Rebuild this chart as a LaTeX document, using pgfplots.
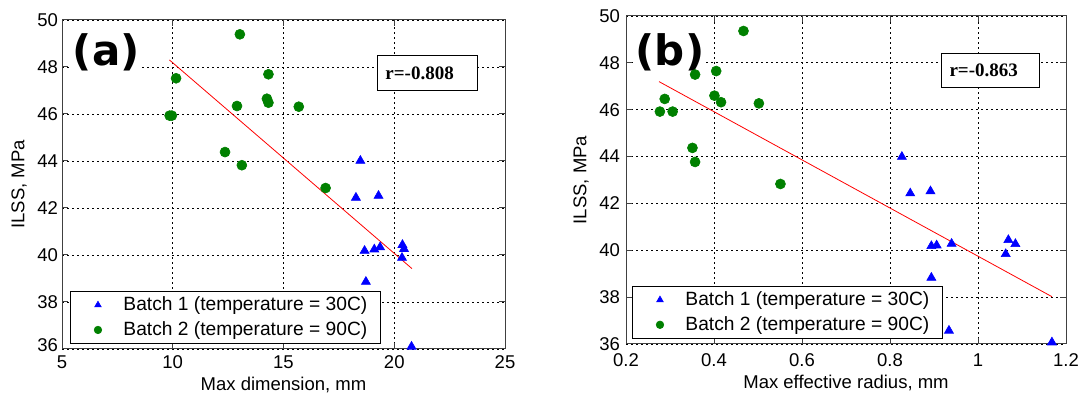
\documentclass[border=0pt]{standalone}
\usepackage{fontspec}
\setmainfont{Liberation Sans}
\newfontfamily\labfont{DejaVu Sans}
\newfontfamily\rfont{Liberation Serif}
\usepackage{pgfplots}
\pgfplotsset{compat=1.18}
\definecolor{mblue}{rgb}{0,0,1}
\definecolor{mgreen}{rgb}{0,0.5,0}
\pgfplotsset{mstyle/.style={
  scale only axis,
  clip=false,
  axis line style={black!75, line width=0.5pt},
  tick style={black!75, line width=0.5pt},
  major tick length=3pt,
  grid=major,
  major grid style={black, line width=0.4pt, dash pattern=on 1pt off 1.5pt},
  ymin=36, ymax=50, ytick={36,38,...,50},
  tick label style={font=\fontsize{9.25}{11}\selectfont},
  label style={font=\fontsize{9.25}{11}\selectfont},
  xlabel shift=-3pt,
  ylabel shift=-1.5pt,
  /pgf/number format/assume math mode=true,
  legend style={font=\fontsize{9.6}{11}\selectfont, draw=black, line width=0.5pt,
    inner xsep=3.5pt, inner ysep=1pt, row sep=1pt,
    nodes={inner ysep=1.5pt, inner xsep=3pt}, cells={anchor=west}, anchor=north west},
  legend image code/.code={\path (-10pt,0pt) (9.5pt,0pt);\draw[##1] plot coordinates {(0pt,0pt)};},
  legend image post style={mark size=1.9pt},
  bluestyle/.style={only marks, mark=triangle*, mark size=2.6pt, color=mblue, mark options={line width=0.3pt}},
  greenstyle/.style={only marks, mark=*, mark size=2.5pt, color=mgreen, mark options={line width=0.3pt}},
}}
\begin{document}
\begin{tikzpicture}
\path[use as bounding box] (0,0) rectangle (541.5pt,197pt);
\begin{axis}[mstyle,
  at={(31pt,22.5pt)}, anchor=south west,
  width=221.5pt, height=164.5pt,
  xmin=5, xmax=25, xtick={5,10,...,25},
  yticklabels={\raisebox{3.5pt}{36},38,40,42,44,46,48,50},
  yticklabel style={xshift=1.5pt},
  xlabel={Max dimension, mm}, ylabel={ILSS, MPa},
  legend style={at={(0.018,0.176)}}]
\addplot[bluestyle] coordinates {(18.47,44.01) (18.27,42.44) (19.29,42.52) (18.66,40.18) (19.10,40.24) (19.36,40.33) (20.37,40.43) (20.44,40.26) (20.35,39.88) (18.72,38.86) (18.65,36.58) (20.78,36.10)};
\addlegendentry{Batch 1 (temperature = 30C)}
\addplot[greenstyle] coordinates {(13.03,49.39) (10.15,47.52) (9.86,45.93) (9.96,45.93) (14.32,47.69) (14.25,46.65) (14.32,46.48) (12.90,46.34) (15.69,46.31) (12.36,44.38) (13.12,43.82) (16.90,42.85)};
\addlegendentry{Batch 2 (temperature = 90C)}
\addplot[red, line width=0.4pt, forget plot] coordinates {(9.85,48.3) (20.8,39.42)};
\node[anchor=base, fill=white, inner sep=0.5pt, font=\labfont\bfseries\fontsize{21}{24}\selectfont] at (rel axis cs:0.1,0.8605) {(a)};
\node[draw=black, line width=0.5pt, fill=white, anchor=north west, text width=42pt, inner xsep=4pt, minimum height=17.5pt, align=left, font=\rfont\bfseries\fontsize{9.5}{11}\selectfont] at (rel axis cs:0.711,0.8936) {r=-0.808};
\end{axis}
\begin{axis}[mstyle,
  at={(313pt,25pt)}, anchor=south west,
  width=220pt, height=164pt,
  xmin=0.2, xmax=1.2, xtick={0.2,0.4,0.6,0.8,1,1.2},
  yticklabel style={xshift=0.5pt},
  xticklabel style={yshift=-1.5pt},
  xlabel={Max effective radius, mm}, ylabel={ILSS, MPa},
  legend style={at={(0.0136,0.177)}}]
\addplot[bluestyle] coordinates {(0.827,43.99) (0.846,42.43) (0.892,42.52) (0.894,40.18) (0.906,40.21) (0.940,40.28) (1.069,40.44) (1.085,40.27) (1.063,39.84) (0.894,38.83) (0.934,36.57) (1.168,36.07)};
\addlegendentry{Batch 1 (temperature = 30C)}
\addplot[greenstyle] coordinates {(0.467,49.36) (0.357,47.50) (0.405,47.65) (0.288,46.46) (0.277,45.92) (0.306,45.92) (0.401,46.60) (0.416,46.32) (0.502,46.27) (0.351,44.37) (0.357,43.77) (0.551,42.83)};
\addlegendentry{Batch 2 (temperature = 90C)}
\addplot[red, line width=0.4pt, forget plot] coordinates {(0.275,47.2) (1.168,38.02)};
\node[anchor=base, fill=white, inner sep=0.5pt, font=\labfont\bfseries\fontsize{21}{24}\selectfont] at (rel axis cs:0.1,0.848) {(b)};
\node[draw=black, line width=0.5pt, fill=white, anchor=north west, text width=41pt, inner xsep=4pt, minimum height=17pt, align=left, font=\rfont\bfseries\fontsize{9.5}{11}\selectfont] at (rel axis cs:0.716,0.887) {r=-0.863};
\end{axis}
\end{tikzpicture}
\end{document}
